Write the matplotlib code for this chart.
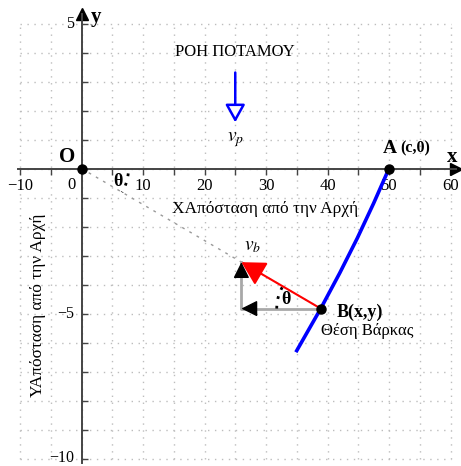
import numpy as np
import matplotlib

matplotlib.use("Agg")
import matplotlib.pyplot as plt
from matplotlib.ticker import MultipleLocator, FuncFormatter

# boat path (pursuit curve)
path_x = [50.0, 47.5, 44.85, 42.0, 38.9, 35.0]
path_y = [0.0, -1.2, -2.4, -3.6, -4.83, -6.28]

point_O = (0.0, 0.0)
point_A = (50.0, 0.0)
point_B = (38.9, -4.83)

# boat velocity components at B
vb_dx = -12.9
vb_dy = 1.6

# river flow arrow
flow_x = 25.0
flow_y_start = 3.31
flow_y_end = 1.59

x_ticks = [-10, 10, 20, 30, 40, 50, 60]
y_ticks = [-10, -5, 5]

plt.rcParams["font.family"] = ["Liberation Serif", "DejaVu Serif"]
plt.rcParams["mathtext.fontset"] = "stix"

W, H = 461, 466
x0px, xs = 81.5, 6.15
y0px, ys = 168.5, 29.0
xlim = (-10.3, 60.9)
ylim = (-10.15, 5.33)


def tick_fmt(shown):
    def fmt(v, pos):
        v = int(round(v))
        if v not in shown:
            return ""
        return "\u2212%d" % -v if v < 0 else "%d" % v
    return FuncFormatter(fmt)


fig = plt.figure(figsize=(W / 100, H / 100), dpi=100)
left = (x0px + xs * xlim[0]) / W
right = (x0px + xs * xlim[1]) / W
top_px = y0px - ys * ylim[1]
bot_px = y0px - ys * ylim[0]
ax = fig.add_axes([left, 1 - bot_px / H, right - left, (bot_px - top_px) / H])
ax.set_xlim(*xlim)
ax.set_ylim(*ylim)

# dotted grid
grid_kw = dict(color="#bdbdbd", linestyle=(0, (1, 4)), linewidth=1.0, zorder=0)
ax.vlines(np.arange(-10, 61, 5), -10, 5, **grid_kw)
ax.hlines(np.arange(-10, 6, 1), -10, 60, **grid_kw)

# axes through the origin
for side in ["top", "right"]:
    ax.spines[side].set_visible(False)
ax.spines["left"].set_position(("data", 0))
ax.spines["bottom"].set_position(("data", 0))
for side in ["left", "bottom"]:
    ax.spines[side].set_color("#444444")
    ax.spines[side].set_linewidth(1.4)
ax.plot(1, 0, ">", color="black", ms=9, transform=ax.get_yaxis_transform(), clip_on=False)
ax.plot(0, 1, "^", color="black", ms=9, transform=ax.get_xaxis_transform(), clip_on=False)

ax.xaxis.set_major_locator(MultipleLocator(10))
ax.xaxis.set_minor_locator(MultipleLocator(5))
ax.yaxis.set_major_locator(MultipleLocator(5))
ax.yaxis.set_minor_locator(MultipleLocator(1))
ax.xaxis.set_major_formatter(tick_fmt(x_ticks))
ax.yaxis.set_major_formatter(tick_fmt(y_ticks))
ax.tick_params(axis="x", which="both", direction="out", length=4, width=1, color="#444444",
               labelsize=12, pad=3)
ax.tick_params(axis="y", which="both", direction="in", length=4, width=1, color="#444444",
               labelsize=11.5, pad=5)
for lab in ax.get_yticklabels():
    lab.set_verticalalignment("center")
ax.text(-1.6, -0.3, "0", fontsize=12, ha="center", va="top")

# dotted line from origin towards the boat
ax.plot([point_O[0], point_B[0]], [point_O[1], point_B[1]], color="#999999",
        linestyle=(0, (2, 4)), linewidth=1, zorder=2)

# boat path
ax.plot(path_x, path_y, color="#0000ff", linewidth=2.6, zorder=3, solid_joinstyle="round")

# velocity decomposition at B
corner = (point_B[0] + vb_dx, point_B[1])
tip = (point_B[0] + vb_dx, point_B[1] + vb_dy)
ax.plot([point_B[0], corner[0], tip[0]], [point_B[1], corner[1], tip[1]],
        color="#a8a8a8", linewidth=2, zorder=3)
ax.annotate("", xy=corner, xytext=(corner[0] + 1.5, corner[1]),
            arrowprops=dict(arrowstyle="-|>,head_length=0.7,head_width=0.35", color="black",
                            lw=1, shrinkA=0, shrinkB=0, mutation_scale=14), zorder=4)
ax.annotate("", xy=tip, xytext=(tip[0], tip[1] - 0.3),
            arrowprops=dict(arrowstyle="-|>,head_length=0.7,head_width=0.35", color="black",
                            lw=1, shrinkA=0, shrinkB=0, mutation_scale=14), zorder=4)
ax.annotate("", xy=tip, xytext=point_B,
            arrowprops=dict(arrowstyle="-|>,head_length=0.9,head_width=0.5", color="#ff0000",
                            lw=1.5, shrinkA=0, shrinkB=0, mutation_scale=16), zorder=5)

# river flow arrow
ax.annotate("", xy=(flow_x, flow_y_end), xytext=(flow_x, flow_y_start),
            arrowprops=dict(arrowstyle="-|>,head_length=0.9,head_width=0.5", fc="white",
                            ec="#0000ff", lw=1.8, shrinkA=0, shrinkB=0, mutation_scale=12),
            zorder=4)

# angle arcs
t = np.radians(np.linspace(-6, -30.4, 20))
ax.plot(47 / xs * np.cos(t), 47 / ys * np.sin(t), color="black",
        linestyle=(0, (1, 2.5)), linewidth=2, zorder=3)
t = np.radians(np.linspace(180, 149.6, 20))
ax.plot(point_B[0] + 44 / xs * np.cos(t), point_B[1] + 44 / ys * np.sin(t), color="black",
        linestyle=(0, (1, 2.5)), linewidth=2, zorder=3)

# points
for px, py in [point_O, point_A, point_B]:
    ax.plot(px, py, "o", color="black", ms=6.5, zorder=6, clip_on=False)

# labels
ax.text(-2.3, 0.38, "O", fontsize=15, fontweight="bold", ha="center", va="center")
ax.text(2.4, 5.24, "y", fontsize=15, fontweight="bold", ha="center", va="center")
ax.text(60.2, 0.41, "x", fontsize=15, fontweight="bold", ha="center", va="center")
ax.text(50.1, 0.69, "A", fontsize=14, fontweight="bold", ha="center", va="center")
ax.text(51.9, 0.69, "(c,0)", fontsize=11.5, fontweight="bold", ha="left", va="center")
ax.text(41.5, -4.97, "B(x,y)", fontsize=13, fontweight="bold", ha="left", va="center")
ax.text(39.0, -5.59, "Θέση Βάρκας", fontsize=12, ha="left", va="center")
ax.text(24.9, 4.0, "ΡΟΗ ΠΟΤΑΜΟΥ", fontsize=12, ha="center", va="center")
ax.text(25.0, 1.0, r"$v_p$", fontsize=14, ha="center", va="center")
ax.text(27.8, -2.7, r"$v_b$", fontsize=14, ha="center", va="center")
ax.text(6.0, -0.45, "θ", fontsize=13, fontweight="bold", ha="center", va="center")
ax.text(33.2, -4.52, "θ", fontsize=13, fontweight="bold", ha="center", va="center")

ax.text(29.9, -1.40, "ΧΑπόσταση από την Αρχή", fontsize=12.5, ha="center", va="center")
ax.text(-7.07, -4.71, "ΥΑπόσταση από την Αρχή", fontsize=12.5, ha="center", va="center",
        rotation=90)

fig.savefig("out.png", dpi=100)
plt.close(fig)
